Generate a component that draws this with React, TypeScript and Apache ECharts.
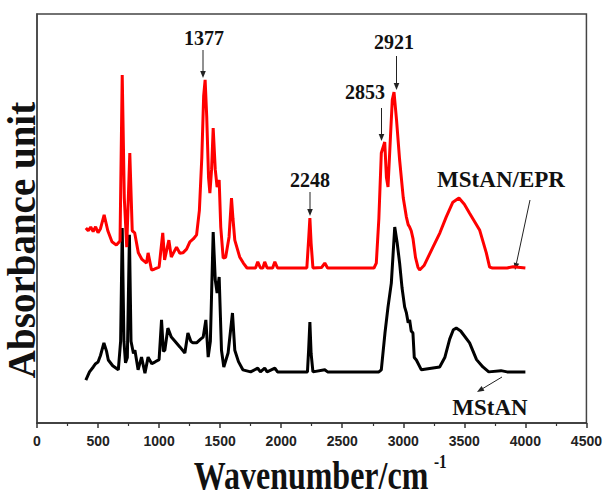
import React, { useEffect, useRef } from "react";
import * as echarts from "echarts";

// x-axis ticks
const xTicks = [0, 500, 1000, 1500, 2000, 2500, 3000, 3500, 4000, 4500];

// MStAN/EPR spectrum (red) [wavenumber, absorbance a.u.]
const redSpectrum: [number, number][] = [
  [400, 47.7], [420, 47.0], [440, 47.9], [460, 46.8], [480, 48.0], [500, 46.5], [520, 47.5],
  [550, 50.9], [580, 47.0], [614, 44.3], [650, 43.5], [680, 44.5], [698, 85.1], [715, 55.0],
  [735, 43.0], [760, 66.0], [780, 47.0], [800, 46.5], [830, 41.6], [860, 40.0], [897, 39.1],
  [910, 41.6], [938, 37.4], [960, 37.6], [1000, 38.1], [1030, 46.5], [1045, 39.9], [1080, 44.7],
  [1100, 40.6], [1143, 43.0], [1170, 41.5], [1195, 41.6], [1225, 42.5], [1252, 44.3], [1280, 45.0],
  [1307, 46.0], [1330, 52.0], [1350, 65.0], [1365, 80.0], [1377, 83.9], [1390, 75.0], [1405, 60.0],
  [1416, 56.2], [1430, 62.0], [1443, 72.1], [1460, 62.0], [1475, 57.7], [1492, 59.4], [1505, 47.9],
  [1525, 40.3], [1545, 40.5], [1573, 45.5], [1593, 55.0], [1605, 50.0], [1620, 44.7], [1660, 40.6],
  [1690, 39.1], [1720, 37.9], [1790, 37.9], [1808, 39.4], [1830, 37.9], [1850, 37.9], [1865, 39.4],
  [1885, 37.9], [1930, 37.9], [1948, 39.4], [1970, 37.9], [2210, 37.9], [2225, 45.0], [2235, 50.1],
  [2245, 44.0], [2260, 37.9], [2330, 38.0], [2357, 39.1], [2380, 37.9], [2760, 37.9], [2779, 39.1],
  [2800, 50.0], [2820, 66.0], [2848, 68.7], [2862, 60.0], [2875, 57.7], [2895, 70.0], [2910, 79.0],
  [2924, 80.9], [2945, 74.0], [2970, 64.3], [3000, 55.0], [3025, 50.4], [3040, 48.5], [3052, 47.9],
  [3065, 47.0], [3080, 45.0], [3100, 40.5], [3120, 38.1], [3134, 37.4], [3170, 38.5], [3243, 43.0],
  [3300, 46.5], [3352, 50.4], [3406, 54.0], [3456, 55.0], [3500, 53.5], [3543, 51.3], [3625, 47.2],
  [3680, 41.6], [3707, 38.1], [3730, 37.9], [3850, 37.9], [3900, 38.2], [4000, 37.9],
];

// MStAN spectrum (black)
const blackSpectrum: [number, number][] = [
  [400, 10.5], [430, 12.5], [461, 13.7], [480, 14.5], [500, 14.9], [520, 16.5], [548, 19.6],
  [570, 17.5], [584, 15.4], [620, 14.0], [666, 13.0], [685, 20.0], [698, 47.7], [712, 20.0],
  [725, 14.7], [740, 16.0], [757, 46.0], [770, 20.0], [790, 17.0], [802, 17.8], [828, 13.0],
  [856, 16.1], [884, 12.2], [910, 16.1], [940, 14.5], [965, 14.9], [1000, 15.5], [1020, 25.2],
  [1035, 17.5], [1047, 17.8], [1072, 23.2], [1100, 21.0], [1130, 20.0], [1170, 18.6], [1211, 17.1],
  [1236, 22.0], [1260, 20.0], [1277, 19.6], [1307, 19.6], [1340, 20.5], [1361, 21.0], [1383, 25.2],
  [1402, 16.1], [1420, 20.0], [1443, 46.7], [1460, 35.0], [1475, 31.8], [1492, 35.7], [1511, 17.8],
  [1530, 13.7], [1565, 17.1], [1601, 26.9], [1620, 17.8], [1650, 15.0], [1686, 13.0], [1750, 12.5],
  [1808, 13.4], [1830, 12.5], [1865, 13.4], [1885, 12.5], [1948, 13.4], [1970, 12.5], [2215, 12.5],
  [2225, 18.0], [2235, 24.7], [2245, 17.0], [2260, 12.5], [2357, 13.0], [2380, 12.5], [2800, 12.5],
  [2820, 13.0], [2850, 22.0], [2875, 28.4], [2902, 34.2], [2930, 47.9], [2950, 44.0], [2970, 39.1],
  [2990, 33.0], [3011, 28.4], [3025, 27.0], [3040, 24.5], [3052, 25.2], [3065, 22.5], [3079, 22.0],
  [3090, 16.0], [3107, 15.4], [3148, 13.0], [3298, 13.7], [3340, 16.0], [3380, 20.5], [3410, 22.8],
  [3434, 23.2], [3470, 22.5], [3543, 19.6], [3600, 15.5], [3652, 13.7], [3700, 12.5], [3800, 12.8],
  [3850, 12.5], [4000, 12.5],
];

const peakLabels = ["1377", "2248", "2853", "2921"];
const seriesNames = ["MStAN", "MStAN/EPR"];

const SERIF = "'Liberation Serif', 'Times New Roman', serif";

function arrow(x1: number, y1: number, x2: number, y2: number) {
  const dx = x2 - x1;
  const dy = y2 - y1;
  const len = Math.sqrt(dx * dx + dy * dy);
  const ux = dx / len;
  const uy = dy / len;
  const hl = 7;
  const hw = 2.8;
  const bx = x2 - ux * hl;
  const by = y2 - uy * hl;
  return [
    {
      type: "line",
      shape: { x1, y1, x2: bx, y2: by },
      style: { stroke: "#222", lineWidth: 1 },
    },
    {
      type: "polygon",
      shape: {
        points: [
          [x2, y2],
          [bx - uy * hw, by + ux * hw],
          [bx + uy * hw, by - ux * hw],
        ],
      },
      style: { fill: "#222" },
    },
  ];
}

function label(text: string, x: number, y: number, size: number) {
  return {
    type: "text",
    x,
    y,
    style: {
      text,
      fill: "#111",
      font: `bold ${size}px ${SERIF}`,
      textAlign: "center",
      textVerticalAlign: "middle",
    },
  };
}

export default function App() {
  const ref = useRef<HTMLDivElement>(null);
  useEffect(() => {
    document.body.style.margin = "0";
    const chart = echarts.init(ref.current!, undefined, { renderer: "svg" });
    chart.setOption({
      animation: false,
      backgroundColor: "#fff",
      grid: {
        left: 37,
        right: 18,
        top: 14,
        bottom: 75,
        show: true,
        borderColor: "#444",
        borderWidth: 1.5,
      },
      xAxis: {
        type: "value",
        min: xTicks[0],
        max: xTicks[xTicks.length - 1],
        interval: 500,
        axisLine: { show: true, lineStyle: { color: "#333", width: 1.5 } },
        axisTick: { show: true, length: 5, lineStyle: { color: "#333", width: 1.5 } },
        minorTick: { show: true, splitNumber: 2, length: 3, lineStyle: { color: "#333", width: 1.2 } },
        splitLine: { show: false },
        axisLabel: {
          margin: 11,
          color: "#222",
          fontSize: 14,
          fontWeight: "bold",
          fontFamily: "'Liberation Sans', Arial, sans-serif",
          showMinLabel: true,
          showMaxLabel: true,
          formatter: (v: number) => String(v),
        },
      },
      yAxis: {
        type: "value",
        min: 0,
        max: 100,
        axisLine: { show: true, lineStyle: { color: "#444", width: 1.5 } },
        axisTick: { show: false },
        axisLabel: { show: false },
        splitLine: { show: false },
      },
      series: [
        {
          name: seriesNames[0],
          type: "line",
          data: blackSpectrum,
          showSymbol: false,
          lineStyle: { color: "#000", width: 3 },
          z: 2,
        },
        {
          name: seriesNames[1],
          type: "line",
          data: redSpectrum,
          showSymbol: false,
          lineStyle: { color: "#ff0000", width: 3 },
          z: 3,
        },
      ],
      graphic: [
        label(peakLabels[0], 204, 38, 20),
        ...arrow(203, 50, 203, 78),
        label(peakLabels[1], 310, 180, 20),
        ...arrow(310, 192, 310, 216),
        label(peakLabels[2], 365, 92, 20),
        ...arrow(381.5, 108, 381.5, 141),
        label(peakLabels[3], 394, 42, 20),
        ...arrow(396.5, 56, 396.5, 90),
        label(seriesNames[1], 501, 179, 23),
        ...arrow(530, 200, 515, 270),
        label(seriesNames[0], 490, 407, 23),
        ...arrow(502, 377, 477, 392),
        {
          type: "text",
          x: 21,
          y: 240,
          rotation: Math.PI / 2,
          style: {
            text: "Absorbance unit",
            fill: "#111",
            font: `bold 39px ${SERIF}`,
            textAlign: "center",
            textVerticalAlign: "middle",
          },
        },
        {
          type: "text",
          x: 311,
          y: 476,
          scaleX: 0.8,
          style: {
            text: "Wavenumber/cm",
            fill: "#111",
            font: `bold 40px ${SERIF}`,
            textAlign: "center",
            textVerticalAlign: "middle",
          },
        },
        {
          type: "text",
          x: 434,
          y: 462,
          scaleX: 0.85,
          style: {
            text: "-1",
            fill: "#111",
            font: `bold 18px ${SERIF}`,
            textAlign: "left",
            textVerticalAlign: "middle",
          },
        },
      ],
    });
    return () => chart.dispose();
  }, []);
  return <div ref={ref} style={{ position: "fixed", left: 0, top: 0, width: 605, height: 498 }} />;
}
